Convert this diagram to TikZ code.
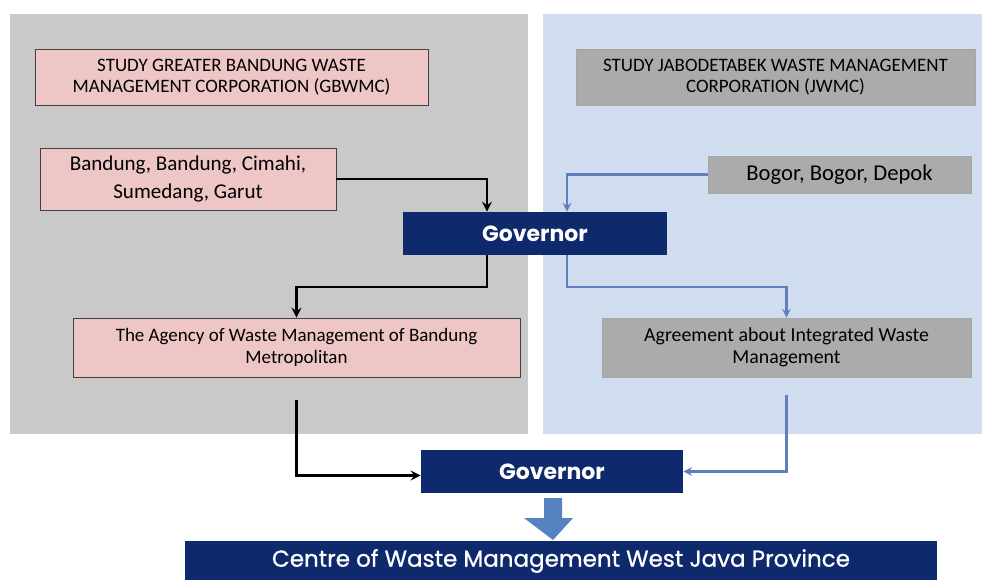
\documentclass[tikz,border=0pt]{standalone}
\usepackage{fontspec}
\setmainfont{Carlito}
\newfontfamily\govfont{Poppins}
\newfontfamily\centrefont[FakeBold=0.8]{Poppins}
\usetikzlibrary{arrows}

\definecolor{panelgray}{HTML}{C9C9C9}
\definecolor{panelblue}{HTML}{CFDDEE}
\definecolor{pinkfill}{HTML}{EEC6C6}
\definecolor{grayfill}{HTML}{ABABAB}
\definecolor{navy}{HTML}{0F2A6C}
\definecolor{linkblue}{HTML}{5E80BC}
\definecolor{arrowblue}{HTML}{5582C0}

\begin{document}
\begin{tikzpicture}[
    x=0.02cm, y=-0.02cm,
    >=stealth,
    every node/.style={align=center, inner sep=2pt},
    pinkbox/.style={draw=black!75, fill=pinkfill, font={\fontsize{10.8}{12.5}\selectfont}},
    graybox/.style={draw=black!35, fill=grayfill, font={\fontsize{11.3}{12.5}\selectfont}},
    titlebox/.style={font={\fontsize{10.8}{12}\selectfont}},
    navybox/.style={fill=navy, text=white, font={\govfont\bfseries\fontsize{12.5}{15}\selectfont}},
    blackline/.style={->, draw=black, line width=1.5pt},
    blueline/.style={->, draw=linkblue, line width=1.2pt},
  ]

  \useasboundingbox (0,0) rectangle (982,579);

  % the two study areas
  \fill[panelgray] (10,14) rectangle (528,434);
  \fill[panelblue] (543,14) rectangle (982,434);

  % left side: Bandung
  \node[pinkbox, titlebox, minimum width=7.86cm, minimum height=1.12cm] (gbwmc) at (231.5,77)
    {STUDY GREATER BANDUNG WASTE\\ MANAGEMENT CORPORATION (GBWMC)};
  \node[pinkbox, minimum width=5.92cm, minimum height=1.24cm,
    font={\fontsize{12}{16}\selectfont}] (bandung) at (188,179)
    {Bandung, Bandung, Cimahi,\\ Sumedang, Garut};
  \node[pinkbox, minimum width=8.94cm, minimum height=1.18cm] (agency) at (296.5,347.5)
    {The Agency of Waste Management of Bandung\\ Metropolitan};

  % right side: Jabodetabek
  \node[graybox, titlebox, minimum width=7.98cm, minimum height=1.12cm] (jwmc) at (775.5,77)
    {STUDY JABODETABEK WASTE MANAGEMENT\\ CORPORATION (JWMC)};
  \node[graybox, minimum width=5.26cm, minimum height=0.74cm,
    font={\fontsize{12.9}{14}\selectfont}] (bogor) at (839.5,174.5)
    {Bogor, Bogor, Depok};
  \node[graybox, minimum width=7.38cm, minimum height=1.18cm] (agree) at (786.5,347.5)
    {Agreement about Integrated Waste\\ Management};

  % governors and the centre
  \node[navybox, minimum width=5.28cm, minimum height=0.86cm] (gov1) at (535,233.5) {Governor};
  \node[navybox, minimum width=5.24cm, minimum height=0.86cm] (gov2) at (552,471.5) {Governor};
  \node[navybox, minimum width=15.04cm, minimum height=0.80cm,
    font={\centrefont\fontsize{13.1}{15}\selectfont}] (centre) at (561,561)
    {Centre of Waste Management West Java Province};

  % block arrow from the governor down to the centre
  \coordinate (down) at (553,498);
  \fill[arrowblue] (down) ++(-9,0) -- ++(18,0) -- ++(0,20) -- ++(11,0)
    -- (553,540) -- (524,518) -- ++(20,0) -- cycle;

  \coordinate (lk) at (487,287);
  \coordinate (bk) at (567,287);

  \draw[blackline] (bandung.east) -| (gov1.north -| lk);
  \draw[blackline] (gov1.south -| lk) -- (lk) -| (agency.north);
  \draw[blackline] ([yshift=-0.46cm]agency.south) |- ([yshift=-0.08cm]gov2.west);

  \draw[blueline] (bogor.west) -| (gov1.north -| bk);
  \draw[blueline] (gov1.south -| bk) -- (bk) -| (agree.north);
  \draw[blueline] ([yshift=-0.36cm]agree.south) |- (gov2.east);

\end{tikzpicture}
\end{document}
